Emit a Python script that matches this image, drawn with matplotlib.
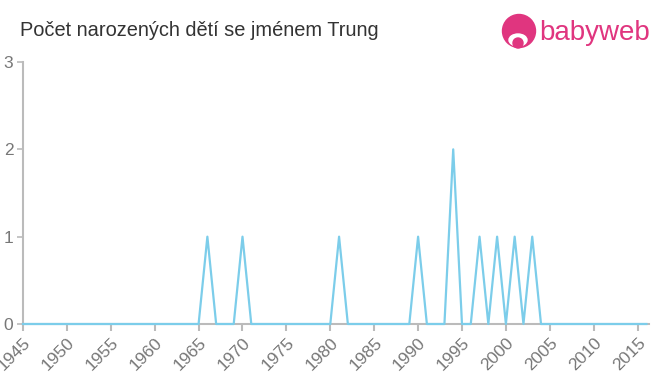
import matplotlib
matplotlib.use("Agg")
import matplotlib.pyplot as plt
from matplotlib.patches import Circle, Ellipse

plt.rcParams["font.family"] = ["Liberation Sans", "DejaVu Sans"]

LINE = "#7ccdea"
AXIS = "#bbbbbb"
TICK_TXT = "#777777"
PINK = "#e0357f"

years = list(range(1945, 2017))
counts = [
    0, 0, 0, 0, 0, 0, 0, 0, 0, 0,   # 1945-1954
    0, 0, 0, 0, 0, 0, 0, 0, 0, 0,   # 1955-1964
    0, 1, 0, 0, 0, 1, 0, 0, 0, 0,   # 1965-1974
    0, 0, 0, 0, 0, 0, 1, 0, 0, 0,   # 1975-1984
    0, 0, 0, 0, 0, 1, 0, 0, 0, 2,   # 1985-1994
    0, 0, 1, 0, 1, 0, 1, 0, 1, 0,   # 1995-2004
    0, 0, 0, 0, 0, 0, 0, 0, 0, 0,   # 2005-2014
    0, 0,                           # 2015-2016
]
xticks = list(range(1945, 2016, 5))
yticks = [0, 1, 2, 3]
title = "Počet narozených dětí se jménem Trung"

fig = plt.figure(figsize=(6.6, 3.75), dpi=100)
ax = fig.add_axes([23 / 660, 1 - 324 / 375, (649 - 23) / 660, (324 - 62) / 375])
ax.plot(years, counts, color=LINE, lw=1.6, clip_on=False, zorder=3)

ax.set_xlim(1945, 2016.3)
ax.set_ylim(0, 3)
ax.set_xticks(xticks)
ax.set_xticklabels([str(t) for t in xticks], rotation=45, ha="right",
                   rotation_mode="anchor", fontsize=12.5, color=TICK_TXT)
ax.set_yticks(yticks)
ax.set_yticklabels([str(t) for t in yticks], fontsize=12.5, color=TICK_TXT)
ax.tick_params(axis="x", length=5, width=1.5, color=AXIS, pad=3)
ax.tick_params(axis="y", length=4, width=1.2, color=AXIS, pad=3)
for s in ["top", "right"]:
    ax.spines[s].set_visible(False)
for s in ["left", "bottom"]:
    ax.spines[s].set_color(AXIS)
    ax.spines[s].set_linewidth(1.5)

fig.text(20 / 660, 1 - 31 / 375, title, fontsize=14.4, color="#333333", va="center", ha="left")

# babyweb logo, drawn in pixel coordinates
lax = fig.add_axes([0, 0, 1, 1], zorder=5)
lax.set_xlim(0, 660)
lax.set_ylim(375, 0)
lax.axis("off")
lax.add_patch(Circle((519, 31), 16.5, color=PINK))
lax.add_patch(Ellipse((518, 40), 18, 12, color="white"))
lax.add_patch(Circle((518, 43), 5, color=PINK))
lax.text(539, 33, "babyweb", fontsize=20, color=PINK, va="center", ha="left")

fig.savefig("out.png", dpi=100)
